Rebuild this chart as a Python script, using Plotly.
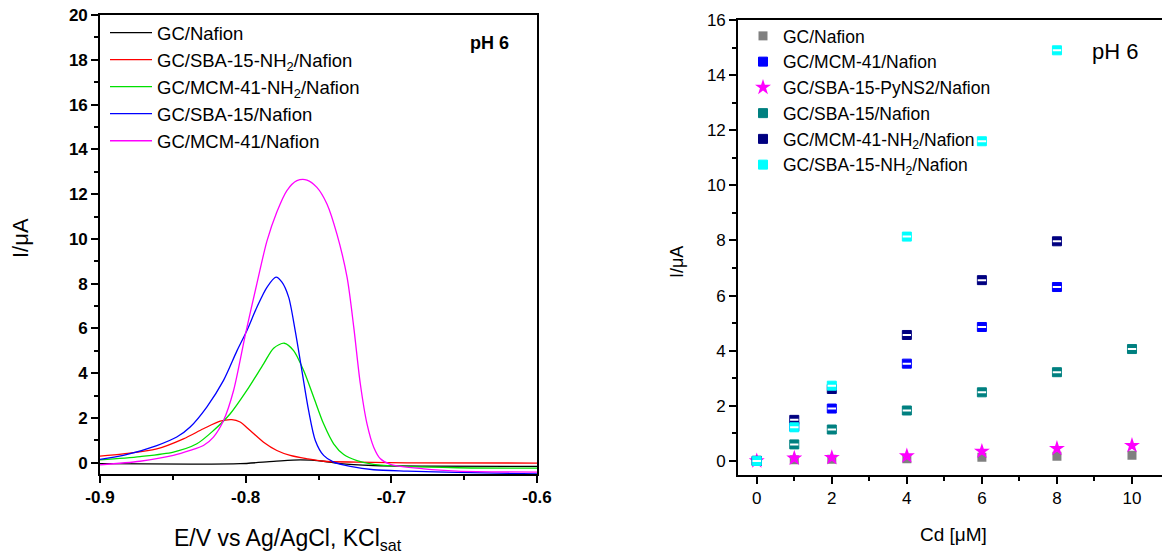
import plotly.graph_objects as go

# ---------------- Left panel: voltammograms ----------------
E_black = [-0.9, -0.8381, -0.8038, -0.7808, -0.7625, -0.7465, -0.735, -0.7121, -0.6777, -0.6]
I_black = [-0.04, -0.06, -0.04, 0.06, 0.13, 0.07, -0.04, -0.12, -0.15, -0.16]

E_red = [-0.9, -0.884, -0.861, -0.8427, -0.829, -0.8175, -0.8095, -0.8038, -0.7969, -0.7877,
         -0.7786, -0.7694, -0.7579, -0.7465, -0.7236, -0.6892, -0.6]
I_red = [0.3, 0.4, 0.62, 1.07, 1.52, 1.86, 1.93, 1.82, 1.44, 0.92,
         0.55, 0.33, 0.18, 0.07, 0.03, 0.0, -0.01]

E_green = [-0.9, -0.8725, -0.8496, -0.8335, -0.8221, -0.8106, -0.7992, -0.7877, -0.7808, -0.7735,
           -0.7671, -0.7602, -0.7533, -0.7465, -0.7396, -0.7327, -0.7236, -0.7121, -0.6892, -0.6548, -0.6]
I_green = [0.13, 0.28, 0.48, 0.85, 1.44, 2.19, 3.23, 4.42, 5.12, 5.34,
           5.01, 4.12, 2.93, 1.74, 0.85, 0.37, 0.1, -0.07, -0.16, -0.22, -0.24]

E_blue = [-0.9, -0.884, -0.861, -0.8473, -0.8381, -0.8267, -0.8152, -0.806, -0.7992, -0.7923,
          -0.7854, -0.7792, -0.7751, -0.7705, -0.766, -0.7614, -0.7568, -0.7522, -0.7465, -0.7396,
          -0.7281, -0.7121, -0.6892, -0.6548, -0.6]
I_blue = [0.15, 0.33, 0.77, 1.15, 1.6, 2.49, 3.68, 5.0, 5.9, 6.95,
          7.84, 8.29, 8.07, 7.4, 5.9, 4.12, 2.34, 1.0, 0.33, 0.03,
          -0.16, -0.31, -0.37, -0.43, -0.49]

E_mag = [-0.9, -0.8725, -0.8496, -0.8381, -0.829, -0.8221, -0.8152, -0.8083, -0.8001, -0.7923,
         -0.7854, -0.7786, -0.7717, -0.7648, -0.7579, -0.7511, -0.7442, -0.7373, -0.7304, -0.7258,
         -0.7213, -0.7167, -0.7121, -0.7075, -0.7006, -0.6777, -0.6548, -0.6]
I_mag = [-0.09, 0.07, 0.33, 0.55, 0.77, 1.15, 1.89, 3.23, 5.76, 8.0,
         9.9, 11.2, 12.16, 12.6, 12.63, 12.3, 11.56, 10.2, 8.29, 6.06,
         3.53, 1.74, 0.7, 0.18, -0.07, -0.27, -0.37, -0.42]

left_names = ["GC/Nafion", "GC/SBA-15-NH<sub>2</sub>/Nafion", "GC/MCM-41-NH<sub>2</sub>/Nafion",
              "GC/SBA-15/Nafion", "GC/MCM-41/Nafion"]
left_colors = ["#000000", "#FF0000", "#00E000", "#0000FF", "#FF00FF"]

# ---------------- Right panel: calibration ----------------
cd = [0, 1, 2, 4, 6, 8, 10]
I_gc = [0.0, 0.04, 0.06, 0.08, 0.13, 0.17, 0.21]
cd_mcm = [0, 1, 2, 4, 6, 8]
I_mcm = [0.0, 1.25, 1.90, 3.53, 4.86, 6.31]
I_pyns = [0.0, 0.1, 0.12, 0.18, 0.35, 0.45, 0.56]
I_sba = [0.0, 0.6, 1.14, 1.83, 2.49, 3.22, 4.06]
cd_mcmnh = [0, 1, 2, 4, 6, 8]
I_mcmnh = [0.0, 1.49, 2.61, 4.57, 6.56, 7.97]
cd_sbanh = [0, 1, 2, 4, 6, 8]
I_sbanh = [0.0, 1.22, 2.73, 8.14, 11.6, 14.9]

x_tickvals = [-0.9, -0.8, -0.7, -0.6]
x_ticktext = ["-0.9", "-0.8", "-0.7", "-0.6"]

FONT = "Arial, Liberation Sans, sans-serif"
W, H = 1162, 559

fig = go.Figure()

left_data = [(E_black, I_black), (E_red, I_red), (E_green, I_green), (E_blue, I_blue), (E_mag, I_mag)]
for (e, i), name, col in zip(left_data, left_names, left_colors):
    fig.add_trace(go.Scatter(x=e, y=i, mode="lines", name=name,
                             line=dict(color=col, width=1.3, shape="spline", smoothing=0.8),
                             xaxis="x", yaxis="y", legend="legend"))

def half_square(x, y, name, col):
    fig.add_trace(go.Scatter(x=x, y=y, mode="markers", name=name,
                             marker=dict(symbol="square", size=9, color=col,
                                         line=dict(color=col, width=1)),
                             xaxis="x2", yaxis="y2", legend="legend2"))
    fig.add_trace(go.Scatter(x=x, y=y, mode="markers", showlegend=False, hoverinfo="skip",
                             marker=dict(symbol="line-ew", size=6,
                                         line=dict(color="white", width=2)),
                             xaxis="x2", yaxis="y2"))

fig.add_trace(go.Scatter(x=cd, y=I_gc, mode="markers", name="GC/Nafion",
                         marker=dict(symbol="square", size=9, color="#808080"),
                         xaxis="x2", yaxis="y2", legend="legend2"))
half_square(cd_mcm, I_mcm, "GC/MCM-41/Nafion", "#0000FF")
fig.add_trace(go.Scatter(x=cd, y=I_pyns, mode="markers", name="GC/SBA-15-PyNS2/Nafion",
                         marker=dict(symbol="star", size=12, color="#FF00FF",
                                     line=dict(width=0)),
                         xaxis="x2", yaxis="y2", legend="legend2"))
half_square(cd, I_sba, "GC/SBA-15/Nafion", "#008080")
half_square(cd_mcmnh, I_mcmnh, "GC/MCM-41-NH<sub>2</sub>/Nafion", "#000080")
half_square(cd_sbanh, I_sbanh, "GC/SBA-15-NH<sub>2</sub>/Nafion", "#00FFFF")

axis_common = dict(showline=True, linecolor="black", linewidth=1.6, ticks="outside",
                   ticklen=7, tickwidth=1.5, tickcolor="black", showgrid=False,
                   zeroline=False, automargin=False)

fig.update_layout(
    width=W, height=H,
    margin=dict(l=0, r=0, t=0, b=0, autoexpand=False),
    paper_bgcolor="white", plot_bgcolor="white",
    font=dict(family=FONT, color="black"),
    xaxis=dict(domain=[100 / W, 537 / W], range=[-0.9, -0.6], anchor="y",
               tickvals=x_tickvals, ticktext=x_ticktext, mirror=True,
               tickfont=dict(size=17, weight="bold", family=FONT),
               minor=dict(dtick=0.05, ticks="outside", ticklen=4, tickwidth=1.5, tickcolor="black"),
               **axis_common),
    yaxis=dict(domain=[1 - 474 / H, 1 - 15 / H], range=[-0.5, 20], anchor="x",
               dtick=2, mirror=True,
               tickfont=dict(size=17, weight="bold", family=FONT),
               minor=dict(dtick=1, ticks="outside", ticklen=4, tickwidth=1.5, tickcolor="black"),
               **axis_common),
    xaxis2=dict(domain=[738 / W, 1.0], range=[-0.5, 10.8], anchor="y2",
                dtick=2, mirror=True,
                tickfont=dict(size=17, family=FONT),
                minor=dict(dtick=1, ticks="outside", ticklen=4, tickwidth=1.5, tickcolor="black"),
                **axis_common),
    yaxis2=dict(domain=[1 - 474.7 / H, 1 - 20 / H], range=[-0.5, 16], anchor="x2",
                dtick=2, mirror=False,
                tickfont=dict(size=17, family=FONT),
                minor=dict(dtick=1, ticks="outside", ticklen=4, tickwidth=1.5, tickcolor="black"),
                **axis_common),
    legend=dict(x=105 / W, y=1 - 14 / H, xanchor="left", yanchor="top",
                font=dict(size=18.5, family=FONT), bgcolor="rgba(0,0,0,0)",
                itemwidth=42, tracegroupgap=0),
    legend2=dict(x=743 / W, y=1 - 18 / H, xanchor="left", yanchor="top",
                 font=dict(size=17.5, family=FONT), bgcolor="rgba(0,0,0,0)",
                 itemwidth=30, tracegroupgap=0),
    showlegend=True,
)

ann = [
    dict(text="pH 6", x=489 / W, y=1 - 43 / H, font=dict(size=18, weight="bold")),
    dict(text="pH 6", x=1115 / W, y=1 - 52 / H, font=dict(size=22)),
    dict(text="I/\u03bcA", x=20 / W, y=1 - 238 / H, font=dict(size=22), textangle=-90),
    dict(text="I/\u03bcA", x=677 / W, y=1 - 262 / H, font=dict(size=18), textangle=-90),
    dict(text="E/V vs Ag/AgCl, KCl<sub>sat</sub>", x=288 / W, y=1 - 539 / H, font=dict(size=23)),
    dict(text="Cd [\u03bcM]", x=953 / W, y=1 - 534 / H, font=dict(size=19)),
]
for a in ann:
    a.update(xref="paper", yref="paper", showarrow=False, xanchor="center", yanchor="middle")
    a["font"]["family"] = FONT
    a["font"]["color"] = "black"
fig.update_layout(annotations=ann)

fig.write_html("out.html")
